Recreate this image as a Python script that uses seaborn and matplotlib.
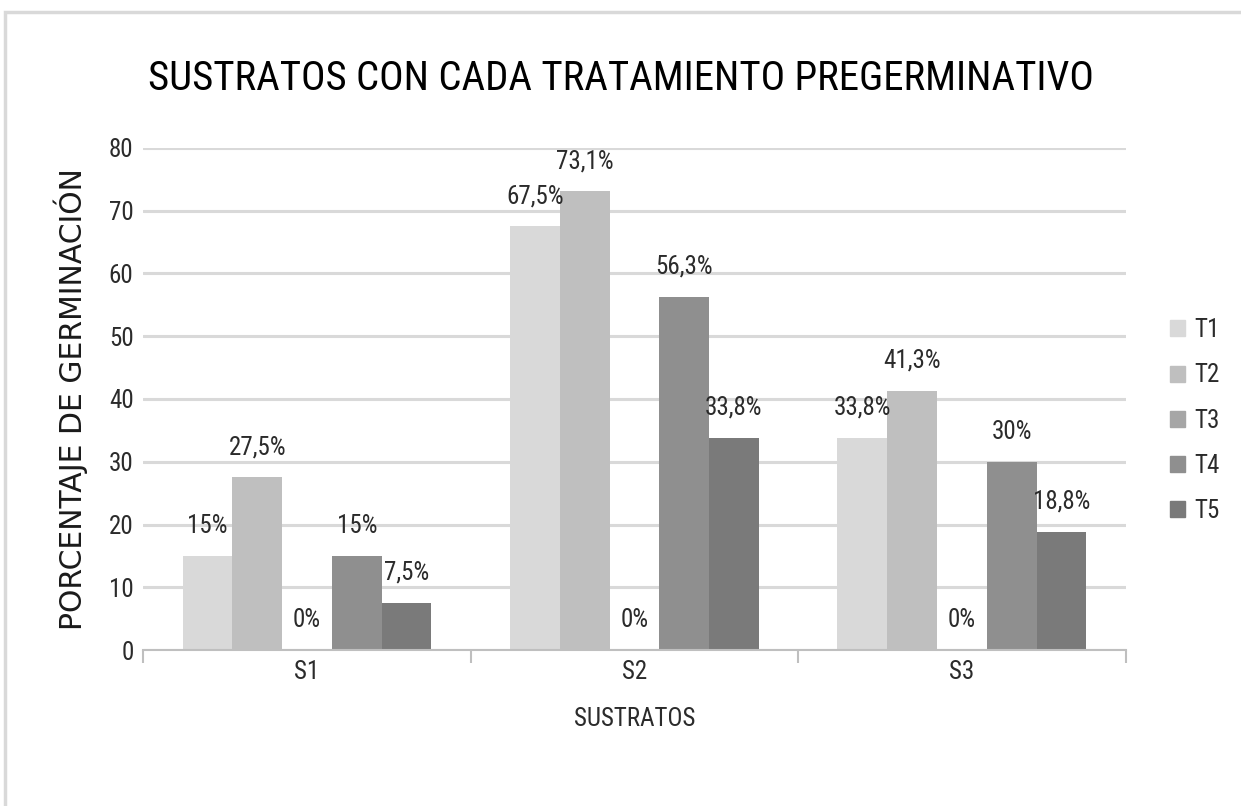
import numpy as np
import pandas as pd
import matplotlib
matplotlib.use("Agg")
import matplotlib.pyplot as plt
import matplotlib.patches as mpatches
import seaborn as sns

# data
sustratos = ["S1", "S2", "S3"]
tratamientos = ["T1", "T2", "T3", "T4", "T5"]
t1 = [15, 67.5, 33.8]
t2 = [27.5, 73.1, 41.3]
t3 = [0, 0, 0]
t4 = [15, 56.3, 30]
t5 = [7.5, 33.8, 18.8]
colores = ["#d9d9d9", "#bfbfbf", "#a6a6a6", "#8f8f8f", "#7a7a7a"]
y_ticks = [0, 10, 20, 30, 40, 50, 60, 70, 80]

df = pd.DataFrame({
    "sustrato": sustratos * 5,
    "tratamiento": [t for t in tratamientos for _ in sustratos],
    "valor": t1 + t2 + t3 + t4 + t5,
})

sns.set_theme(style="white")
plt.rcParams["font.family"] = ["Roboto Condensed", "DejaVu Sans"]

fig = plt.figure(figsize=(12.41, 8.06), dpi=100)
ax = fig.add_axes([0.1155, 0.1935, 0.7915, 0.623])

sns.barplot(data=df, x="sustrato", y="valor", hue="tratamiento",
            palette=colores, width=0.76, gap=0, saturation=1,
            edgecolor="none", linewidth=0, ax=ax, legend=False)


def fmt(v):
    s = f"{v:.1f}".replace(".", ",")
    return s[:-2] + "%" if s.endswith(",0") else s + "%"


for cont in ax.containers:
    ax.bar_label(cont, labels=[fmt(b.get_height()) for b in cont],
                 padding=13, fontsize=18, color="#2b2b2b")

ax.set_ylim(0, 80)
ax.set_xlim(-0.5, 2.5)
ax.set_yticks(y_ticks)
ax.yaxis.grid(True, color="#d9d9d9", linewidth=2.2)
ax.set_axisbelow(True)
for side in ["top", "right", "left"]:
    ax.spines[side].set_visible(False)
ax.spines["bottom"].set_color("#bfbfbf")
ax.spines["bottom"].set_linewidth(1.5)

# Excel-style tick marks between categories
ax.set_xticks([-0.5, 0.5, 1.5, 2.5], minor=True)
ax.tick_params(axis="x", which="minor", length=9, width=1.5, color="#bfbfbf",
               bottom=True)
ax.tick_params(axis="x", which="major", length=0, labelsize=18, pad=7,
               labelcolor="#2b2b2b")
ax.tick_params(axis="y", length=0, labelsize=18, pad=7, labelcolor="#2b2b2b")

ax.set_xlabel("SUSTRATOS", fontsize=18, color="#2b2b2b", labelpad=17)
ax.set_ylabel("PORCENTAJE DE GERMINACIÓN", fontsize=21.5, color="#1a1a1a",
              family=["DejaVu Sans"], labelpad=15)

fig.text(0.5, 0.903, "SUSTRATOS CON CADA TRATAMIENTO PREGERMINATIVO",
         fontsize=29.4, color="#000000", ha="center", va="center")

handles = [mpatches.Patch(color=c, label=t) for c, t in zip(colores, tratamientos)]
fig.legend(handles=handles, loc="center left", bbox_to_anchor=(0.925, 0.478),
           frameon=False, fontsize=18, handlelength=0.6, handleheight=0.6,
           handletextpad=0.35, labelspacing=0.85, labelcolor="#2b2b2b")

# outer chart border
fig.add_artist(mpatches.Rectangle((0.004, -0.1), 1.2, 1.085,
                                  transform=fig.transFigure, fill=False,
                                  edgecolor="#d9d9d9", linewidth=2.5))

fig.savefig("out.png", dpi=100)
